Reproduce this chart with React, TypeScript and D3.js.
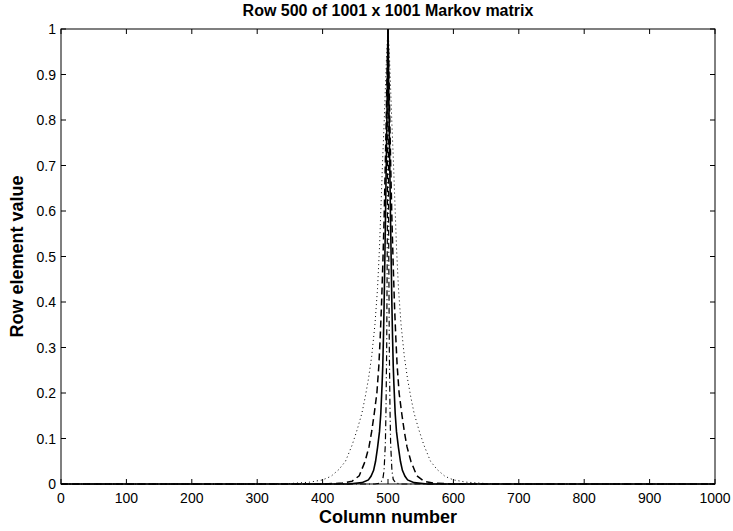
import React, { useEffect, useRef } from "react";
import * as d3 from "d3";

// column positions and row values (peak at column 500)
const dottedCols = [0, 300, 350, 380, 400, 413, 425, 435, 445, 453, 460, 465, 470, 475, 480, 484, 487, 490, 492, 494, 496, 498, 500,
  502, 504, 506, 508, 510, 513, 516, 520, 525, 530, 535, 540, 547, 555, 565, 575, 587, 600, 620, 650, 700, 1000];
const dottedVals = [0, 0, 0.001, 0.004, 0.009, 0.017, 0.032, 0.05, 0.085, 0.12, 0.155, 0.19, 0.23, 0.28, 0.35, 0.43, 0.52, 0.64, 0.72, 0.79, 0.87, 0.95, 1,
  0.95, 0.87, 0.79, 0.72, 0.64, 0.52, 0.43, 0.35, 0.28, 0.23, 0.19, 0.155, 0.12, 0.085, 0.05, 0.032, 0.017, 0.009, 0.004, 0.001, 0, 0];

const dashedCols = [0, 400, 430, 445, 456, 465, 471, 475, 479, 483, 486, 488, 490, 492, 494, 496, 497, 498, 499, 500,
  501, 502, 503, 504, 506, 508, 510, 512, 514, 517, 521, 525, 529, 535, 544, 555, 570, 600, 1000];
const dashedVals = [0, 0, 0.002, 0.006, 0.018, 0.05, 0.082, 0.115, 0.155, 0.2, 0.26, 0.32, 0.39, 0.48, 0.58, 0.71, 0.78, 0.86, 0.93, 1,
  0.93, 0.86, 0.78, 0.71, 0.58, 0.48, 0.39, 0.32, 0.26, 0.2, 0.155, 0.115, 0.082, 0.05, 0.018, 0.006, 0.002, 0, 0];

const solidCols = [0, 440, 460, 470, 474, 478, 481, 484, 487, 489, 491, 492, 493, 494, 495, 496, 497, 498, 499, 500,
  501, 502, 503, 504, 505, 506, 507, 508, 509, 511, 513, 516, 519, 522, 526, 530, 540, 560, 1000];
const solidVals = [0, 0, 0.003, 0.009, 0.017, 0.03, 0.05, 0.08, 0.115, 0.155, 0.22, 0.26, 0.32, 0.39, 0.48, 0.57, 0.67, 0.77, 0.88, 1,
  0.88, 0.77, 0.67, 0.57, 0.48, 0.39, 0.32, 0.26, 0.22, 0.155, 0.115, 0.08, 0.05, 0.03, 0.017, 0.009, 0.003, 0, 0];

const dashDotCols = [0, 480, 488, 492, 494, 496, 497, 498, 499, 500, 501, 502, 503, 504, 506, 508, 512, 520, 1000];
const dashDotVals = [0, 0, 0.002, 0.01, 0.03, 0.09, 0.17, 0.3, 0.55, 1, 0.55, 0.3, 0.17, 0.09, 0.03, 0.01, 0.002, 0, 0];

const xTicks = [0, 100, 200, 300, 400, 500, 600, 700, 800, 900, 1000];
const yTicks = [0, 0.1, 0.2, 0.3, 0.4, 0.5, 0.6, 0.7, 0.8, 0.9, 1];

const W = 733, H = 531;
const margin = { left: 61, right: 18, top: 29, bottom: 47 };

export default function App() {
  const ref = useRef<SVGSVGElement>(null);

  useEffect(() => {
    const svg = d3.select(ref.current);
    svg.selectAll("*").remove();

    const x = d3.scaleLinear().domain([0, 1000]).range([margin.left, W - margin.right]);
    const y = d3.scaleLinear().domain([0, 1]).range([H - margin.bottom, margin.top]);
    const font = "Arial, 'Liberation Sans', Helvetica, sans-serif";

    // box
    svg.append("rect")
      .attr("x", x(0)).attr("y", y(1))
      .attr("width", x(1000) - x(0)).attr("height", y(0) - y(1))
      .attr("fill", "white").attr("stroke", "black").attr("stroke-width", 1);

    // ticks on all four sides, pointing inwards
    const tl = 5;
    const g = svg.append("g").attr("stroke", "black").attr("stroke-width", 1);
    xTicks.forEach(t => {
      g.append("line").attr("x1", x(t)).attr("x2", x(t)).attr("y1", y(0)).attr("y2", y(0) - tl);
      g.append("line").attr("x1", x(t)).attr("x2", x(t)).attr("y1", y(1)).attr("y2", y(1) + tl);
    });
    yTicks.forEach(t => {
      g.append("line").attr("x1", x(0)).attr("x2", x(0) + tl).attr("y1", y(t)).attr("y2", y(t));
      g.append("line").attr("x1", x(1000)).attr("x2", x(1000) - tl).attr("y1", y(t)).attr("y2", y(t));
    });

    svg.append("g").selectAll("text").data(xTicks).join("text")
      .attr("x", d => x(d)).attr("y", y(0) + 19)
      .attr("text-anchor", "middle")
      .attr("font-family", font).attr("font-size", 14)
      .text(d => String(d));

    svg.append("g").selectAll("text").data(yTicks).join("text")
      .attr("x", x(0) - 5).attr("y", d => y(d) + 5)
      .attr("text-anchor", "end")
      .attr("font-family", font).attr("font-size", 14)
      .text(d => String(d));

    // curves
    const line = d3.line<[number, number]>().x(d => x(d[0])).y(d => y(d[1]));
    const series = [
      { cols: dottedCols, vals: dottedVals, dash: "1,3", w: 1 },
      { cols: dashedCols, vals: dashedVals, dash: "7,4", w: 1.5 },
      { cols: solidCols, vals: solidVals, dash: null, w: 1.6 },
      { cols: dashDotCols, vals: dashDotVals, dash: "6,3,1,3", w: 1.2 },
    ];
    series.forEach(s => {
      const pts = s.cols.map((c, i) => [c, s.vals[i]] as [number, number]);
      svg.append("path")
        .attr("d", line(pts))
        .attr("fill", "none")
        .attr("stroke", "black")
        .attr("stroke-width", s.w)
        .attr("stroke-dasharray", s.dash);
    });

    // labels
    svg.append("text")
      .attr("x", (x(0) + x(1000)) / 2).attr("y", 16)
      .attr("text-anchor", "middle")
      .attr("font-family", font).attr("font-size", 16).attr("font-weight", "bold")
      .text("Row 500 of 1001 x 1001 Markov matrix");

    svg.append("text")
      .attr("x", (x(0) + x(1000)) / 2).attr("y", 523)
      .attr("text-anchor", "middle")
      .attr("font-family", font).attr("font-size", 18).attr("font-weight", "bold")
      .text("Column number");

    svg.append("text")
      .attr("transform", `translate(23, ${(y(0) + y(1)) / 2}) rotate(-90)`)
      .attr("text-anchor", "middle")
      .attr("font-family", font).attr("font-size", 18).attr("font-weight", "bold")
      .text("Row element value");
  }, []);

  return (
    <svg ref={ref} width={W} height={H}
      style={{ position: "absolute", left: 0, top: 0, background: "white" }} />
  );
}
